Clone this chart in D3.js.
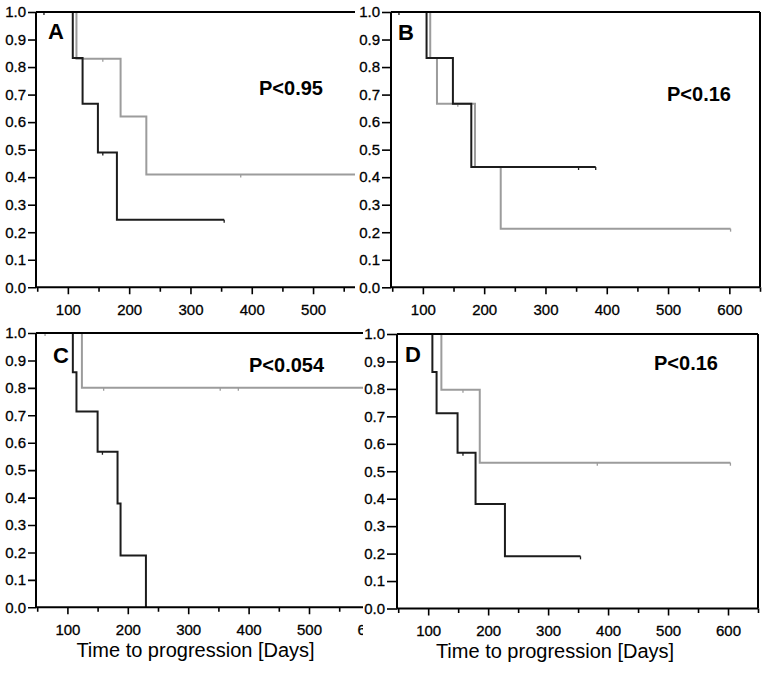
<!DOCTYPE html>
<html><head><meta charset="utf-8">
<script src="https://cdn.jsdelivr.net/npm/d3@7"></script>
<style>
body{margin:0;background:#fff}
text{font-family:"Liberation Sans",Arial,sans-serif}
</style>
</head><body>
<svg id="chart" width="768" height="673"></svg>
<script>
// ---------- data ----------
const xMajorTicks = [100, 200, 300, 400, 500, 600];
const xMinorTicks = [50, 150, 250, 350, 450, 550, 650];
const yTicks = [0, 0.1, 0.2, 0.3, 0.4, 0.5, 0.6, 0.7, 0.8, 0.9, 1.0];
const panelLabels = ["A", "B", "C", "D"];
const pValues = ["P<0.95", "P<0.16", "P<0.054", "P<0.16"];
const xTitle = "Time to progression [Days]";
const xDomain = [48, 650];

// Panel A
const aBlackTimes = [108, 124, 149, 180];
const aBlackSurv = [0.833, 0.667, 0.49, 0.245];
const aBlackEnd = 355;
const aBlackCensor = [61, 157, 355];
const aGreyTimes = [114, 186, 228];
const aGreySurv = [0.83, 0.62, 0.41];
const aGreyEnd = 650;
const aGreyCensor = [157, 382];

// Panel B
const bBlackTimes = [106, 149, 179];
const bBlackSurv = [0.833, 0.667, 0.437];
const bBlackEnd = 382;
const bBlackCensor = [61, 354, 382];
const bGreyTimes = [112, 123, 185, 227];
const bGreySurv = [0.833, 0.667, 0.437, 0.213];
const bGreyEnd = 602;
const bGreyCensor = [157, 602];

// Panel C
const cBlackTimes = [109, 115, 150, 183, 188, 230];
const cBlackSurv = [0.857, 0.714, 0.567, 0.378, 0.189, 0];
const cBlackEnd = 230;
const cBlackCensor = [158];
const cGreyTimes = [124];
const cGreySurv = [0.8];
const cGreyEnd = 650;
const cGreyCensor = [63, 160, 353, 383];

// Panel D
const dBlackTimes = [107, 114, 149, 179, 228];
const dBlackSurv = [0.862, 0.711, 0.567, 0.381, 0.19];
const dBlackEnd = 354;
const dBlackCensor = [158, 354];
const dGreyTimes = [122, 186];
const dGreySurv = [0.797, 0.531];
const dGreyEnd = 604;
const dGreyCensor = [158, 382, 604];

// ---------- drawing ----------
const svg = d3.select("#chart");
svg.append("rect").attr("width", 768).attr("height", 673).attr("fill", "#fff");

const BLACK = "#1c1c1c", GREY = "#9c9c9c";
const FONT = '"Liberation Sans",Arial,sans-serif';

const panels = [
  {id:"A", label:panelLabels[0], p:pValues[0], left:36, right:405, top:12, bottom:287.3, clip:355,
   labelPos:[48,39], pPos:[259,95], title:null, ytick:8,
   series:[{t:aGreyTimes,s:aGreySurv,end:aGreyEnd,c:aGreyCensor,col:GREY},{t:aBlackTimes,s:aBlackSurv,end:aBlackEnd,c:aBlackCensor,col:BLACK}]},
  {id:"C", label:panelLabels[2], p:pValues[2], left:36, right:399.6, top:333, bottom:607.3, clip:363,
   labelPos:[53,362.5], pPos:[249,371.5], title:[195.5,657], ytick:8,
   series:[{t:cGreyTimes,s:cGreySurv,end:cGreyEnd,c:cGreyCensor,col:GREY},{t:cBlackTimes,s:cBlackSurv,end:cBlackEnd,c:cBlackCensor,col:BLACK}]},
  {id:"B", label:panelLabels[1], p:pValues[1], left:391, right:760, top:12, bottom:287.3, clip:null,
   labelPos:[398,40], pPos:[667,100.5], title:null, ytick:9,
   series:[{t:bGreyTimes,s:bGreySurv,end:bGreyEnd,c:bGreyCensor,col:GREY},{t:bBlackTimes,s:bBlackSurv,end:bBlackEnd,c:bBlackCensor,col:BLACK}]},
  {id:"D", label:panelLabels[3], p:pValues[3], left:397, right:758, top:334, bottom:608.5, clip:null,
   labelPos:[405,362], pPos:[654,370], title:[555,658], ytick:10,
   series:[{t:dGreyTimes,s:dGreySurv,end:dGreyEnd,c:dGreyCensor,col:GREY},{t:dBlackTimes,s:dBlackSurv,end:dBlackEnd,c:dBlackCensor,col:BLACK}]}
];

const defs = svg.append("defs");

panels.forEach(P => {
  const x = d3.scaleLinear().domain(xDomain).range([P.left, P.right]);
  const y = d3.scaleLinear().domain([0, 1]).range([P.bottom, P.top]);
  let g = svg.append("g");
  if (P.clip !== null) {
    defs.append("clipPath").attr("id", "clip" + P.id)
      .append("rect").attr("x", 0).attr("y", P.top - 15).attr("width", P.clip).attr("height", P.bottom - P.top + 60);
    g.attr("clip-path", "url(#clip" + P.id + ")");
  }

  // curves
  P.series.forEach(S => {
    const pts = [[xDomain[0], 1]];
    S.t.forEach((t, i) => pts.push([t, S.s[i]]));
    pts.push([S.end, S.s[S.s.length - 1]]);
    const line = d3.line().x(d => x(d[0])).y(d => y(d[1])).curve(d3.curveStepAfter);
    g.append("path").attr("d", line(pts)).attr("fill", "none")
      .attr("stroke", S.col).attr("stroke-width", 2);
    const survAt = t => { let v = 1; S.t.forEach((tt, i) => { if (t >= tt) v = S.s[i]; }); return v; };
    S.c.forEach(t => {
      g.append("line").attr("x1", x(t)).attr("x2", x(t))
        .attr("y1", y(survAt(t))).attr("y2", y(survAt(t)) + 3)
        .attr("stroke", S.col).attr("stroke-width", 1.3);
    });
  });

  // y axis
  const ya = g.append("g").attr("transform", `translate(${P.left},0)`)
    .call(d3.axisLeft(y).tickValues(yTicks).tickFormat(d3.format(".1f")).tickSize(P.ytick).tickPadding(2));
  ya.select(".domain").remove();
  ya.selectAll("line").attr("stroke", "#000").attr("stroke-width", 1.6);
  ya.selectAll("text").attr("font-size", 15).attr("fill", "#000")
    .attr("stroke", "#000").attr("stroke-width", 0.3).style("font-family", FONT);

  // x axis
  const xa = g.append("g").attr("transform", `translate(0,${P.bottom})`)
    .call(d3.axisBottom(x).tickValues(xMajorTicks).tickFormat(d3.format("d")).tickSize(7).tickPadding(10));
  xa.select(".domain").remove();
  xa.selectAll("line").attr("stroke", "#000").attr("stroke-width", 1.6);
  xa.selectAll("text").attr("font-size", 15).attr("fill", "#000")
    .attr("stroke", "#000").attr("stroke-width", 0.3).style("font-family", FONT);
  const xm = g.append("g").attr("transform", `translate(0,${P.bottom})`)
    .call(d3.axisBottom(x).tickValues(xMinorTicks).tickFormat("").tickSize(4.5));
  xm.select(".domain").remove();
  xm.selectAll("line").attr("stroke", "#000").attr("stroke-width", 1.6);

  // frame
  g.append("line").attr("x1", P.left).attr("x2", P.right).attr("y1", P.bottom).attr("y2", P.bottom).attr("stroke", "#000").attr("stroke-width", 2);
  g.append("line").attr("x1", P.left).attr("x2", P.right).attr("y1", P.top).attr("y2", P.top).attr("stroke", "#000").attr("stroke-width", 2);
  g.append("line").attr("x1", P.left).attr("x2", P.left).attr("y1", P.top).attr("y2", P.bottom).attr("stroke", "#000").attr("stroke-width", 2);
  if (P.clip === null) {
    g.append("line").attr("x1", P.right).attr("x2", P.right).attr("y1", P.top).attr("y2", P.bottom).attr("stroke", "#000").attr("stroke-width", 2);
  }

  // texts
  g.append("text").attr("x", P.labelPos[0]).attr("y", P.labelPos[1]).attr("font-size", 22).attr("font-weight", "bold").text(P.label);
  g.append("text").attr("x", P.pPos[0]).attr("y", P.pPos[1]).attr("font-size", 20).attr("font-weight", "bold").text(P.p);
  if (P.title) {
    svg.append("text").attr("x", P.title[0]).attr("y", P.title[1]).attr("text-anchor", "middle").attr("font-size", 20).text(xTitle);
  }
});
</script>
</body></html>
